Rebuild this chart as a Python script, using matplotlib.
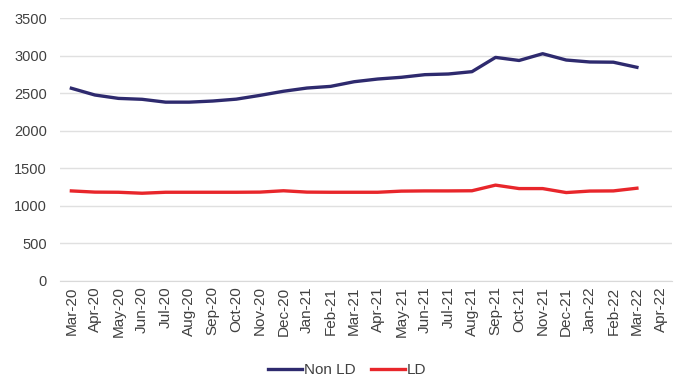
import matplotlib
matplotlib.use("Agg")
import matplotlib.pyplot as plt

plt.rcParams['font.family'] = ['Liberation Sans', 'DejaVu Sans']

months = ["Mar-20", "Apr-20", "May-20", "Jun-20", "Jul-20", "Aug-20", "Sep-20",
          "Oct-20", "Nov-20", "Dec-20", "Jan-21", "Feb-21", "Mar-21", "Apr-21",
          "May-21", "Jun-21", "Jul-21", "Aug-21", "Sep-21", "Oct-21", "Nov-21",
          "Dec-21", "Jan-22", "Feb-22", "Mar-22", "Apr-22"]

non_ld = [2565, 2475, 2430, 2418, 2380, 2380, 2395, 2420, 2470, 2525, 2568,
          2590, 2652, 2688, 2711, 2746, 2755, 2786, 2976, 2935, 3025, 2941,
          2915, 2912, 2844]
ld = [1198, 1182, 1180, 1167, 1180, 1180, 1180, 1180, 1182, 1200, 1182,
      1180, 1180, 1180, 1195, 1198, 1198, 1200, 1275, 1229, 1229, 1176,
      1196, 1198, 1234]

fig = plt.figure(figsize=(6.77, 3.76), dpi=100)
ax = fig.add_axes([0.088, 0.253, 0.905, 0.699])

x = list(range(len(months)))
ax.plot(x[:len(non_ld)], non_ld, color="#2E2A6E", lw=2.4, label="Non LD")
ax.plot(x[:len(ld)], ld, color="#E8262B", lw=2.4, label="LD")

ax.set_xlim(-0.5, len(months) - 0.5)
ax.set_ylim(0, 3500)
ax.set_yticks(range(0, 3501, 500))
ax.set_xticks(x)
ax.set_xticklabels(months, rotation=90, fontsize=11, color="#404040")
ax.tick_params(axis="y", labelsize=10.5, labelcolor="#404040", length=0, pad=9)
ax.tick_params(axis="x", length=0, pad=4)

ax.grid(axis="y", color="#E0E0E0", lw=1)
ax.set_axisbelow(True)
for side in ["top", "right", "left"]:
    ax.spines[side].set_visible(False)
ax.spines["bottom"].set_color("#D9D9D9")

fig.legend(loc="lower center", bbox_to_anchor=(0.513, -0.04), ncol=2,
           frameon=False, fontsize=11, handlelength=2.2, handletextpad=0.15,
           columnspacing=1.0, labelcolor="#404040")

fig.savefig("out.png", dpi=100)
